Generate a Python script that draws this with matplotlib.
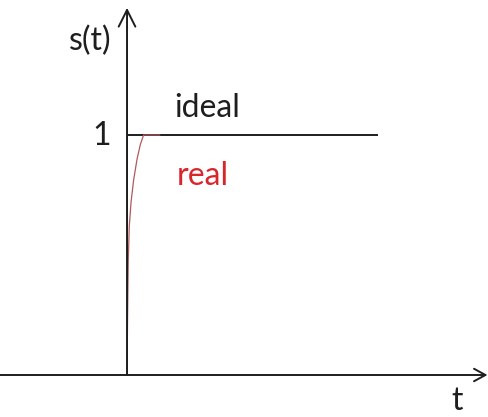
import matplotlib
matplotlib.use('Agg')
import matplotlib.pyplot as plt

# step response: ideal vs real (t in arbitrary units, s normalised)
ideal_t = [0.0, 10.0]
ideal_s = [1.0, 1.0]
real_t = [0.0, 0.02, 0.05, 0.09, 0.16, 0.26, 0.40, 0.53, 0.66, 1.3]
real_s = [0.0, 0.22, 0.48, 0.62, 0.72, 0.81, 0.90, 0.96, 1.0, 1.0]
labels = {'ideal': 'ideal', 'real': 'real', 'ylab': 's(t)', 'xlab': 't', 'one': '1'}

plt.rcParams['font.family'] = ['Lato', 'DejaVu Sans']
FS = 23
RED = '#d8262c'
INK = '#1e1e1e'

fig = plt.figure(figsize=(4.88, 4.17), dpi=100)
ax = fig.add_axes([0, 0, 1, 1])
ax.set_xlim(-5.06, 14.38)
ax.set_ylim(-0.175, 1.5625)
ax.axis('off')

# axes drawn as arrows
ax.annotate('', xy=(14.36, 0), xytext=(-5.06, 0),
            arrowprops=dict(arrowstyle='->,head_length=0.55,head_width=0.3',
                            lw=1.4, color=INK, mutation_scale=15,
                            shrinkA=0, shrinkB=0))
ax.annotate('', xy=(0, 1.53), xytext=(0, 0),
            arrowprops=dict(arrowstyle='->,head_length=0.6,head_width=0.3',
                            lw=1.4, color=INK, mutation_scale=20,
                            shrinkA=0, shrinkB=0))

ax.plot(ideal_t, ideal_s, color=INK, lw=1.4, solid_capstyle='butt')
ax.plot(real_t, real_s, color='#b5585a', lw=0.9)

ax.text(-1.47, 1.354, labels['ylab'], fontsize=FS, ha='center', va='baseline', color=INK)
ax.text(-1.0, 0.96, labels['one'], fontsize=FS, ha='center', va='baseline', color=INK)
ax.text(1.9, 1.075, labels['ideal'], fontsize=FS, ha='left', va='baseline', color=INK)
ax.text(2.0, 0.79, labels['real'], fontsize=FS, ha='left', va='baseline', color=RED)
ax.text(13.15, -0.144, labels['xlab'], fontsize=FS, ha='center', va='baseline', color=INK)

fig.savefig('out.png', dpi=100)
